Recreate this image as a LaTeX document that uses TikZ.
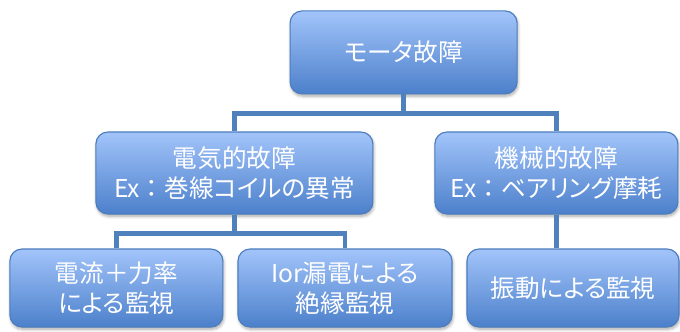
\documentclass[tikz,border=0pt]{standalone}
\usepackage{fontspec}
\setmainfont{Noto Sans CJK JP}[RawFeature=+palt]
\newfontfamily\fullw{Noto Sans CJK JP}
\usetikzlibrary{shadows.blur}
\definecolor{boxtop}{HTML}{A2C4FA}
\definecolor{boxbottom}{HTML}{4C80CB}
\definecolor{boxline}{HTML}{4B7DBE}
\definecolor{linkblue}{HTML}{4F81BD}

\begin{document}
\begin{tikzpicture}
\tikzstyle{failbox} = [rectangle, rounded corners=0.3cm, align=center, text=white, font=\fontsize{17.5}{21.5}\selectfont, draw=boxline, line width=0.8pt, top color=boxtop, bottom color=boxbottom, blur shadow={shadow xshift=0.6pt, shadow yshift=-1.6pt, shadow opacity=35, shadow blur steps=6}]
\tikzstyle{link} = [draw=linkblue, line width=3pt]

\useasboundingbox (0,0) rectangle (17,-8.275);

% Top failure
\node (motor) [failbox, minimum width=5.675cm, minimum height=2.075cm] at (10.09,-1.31) {モータ故障};

% Failure classes
\node (elec) [failbox, minimum width=6.925cm, minimum height=2.05cm] at (5.86,-4.325) {電気的故障\\Ex{\fullw ：}巻線コイルの異常};
\node (mech) [failbox, minimum width=6.075cm, minimum height=2.05cm] at (13.91,-4.325) {機械的故障\\Ex{\fullw ：}ベアリング摩耗};

% Monitoring methods
\node (power) [failbox, minimum width=5.325cm, minimum height=1.95cm] at (2.91,-7.2) {電流＋力率\\による監視};
\node (leak) [failbox, minimum width=5.35cm, minimum height=1.95cm] at (8.625,-7.2) {Ior漏電による\\絶縁監視};
\node (vib) [failbox, minimum width=5.3cm, minimum height=1.95cm] at (14.325,-7.2) {振動による監視};

% Tree links
\foreach \cls in {elec, mech} {
    \draw[link] (motor.south) -- ++(0,-0.475) -| (\cls.north);
}
\foreach \way in {power, leak} {
    \draw[link] (elec.south) -- ++(0,-0.475) -| (\way.north);
}
\draw[link] (mech.south) -- (mech.south |- vib.north);

\end{tikzpicture}
\end{document}
